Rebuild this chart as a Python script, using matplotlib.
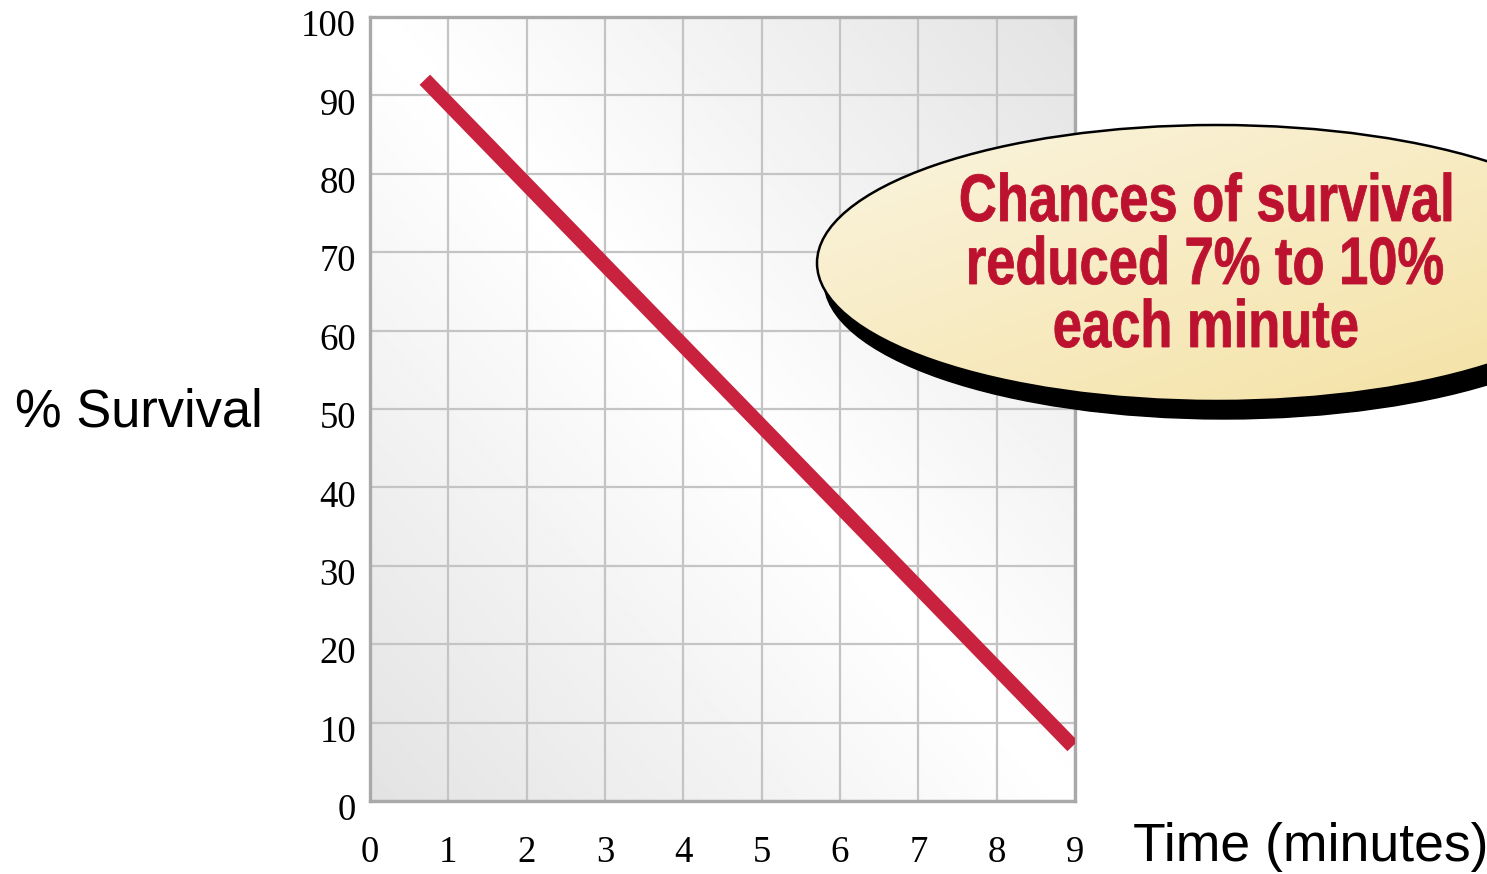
import matplotlib.pyplot as plt
import numpy as np
from matplotlib.patches import Ellipse, PathPatch
from matplotlib.textpath import TextPath
from matplotlib.font_manager import FontProperties
from matplotlib.transforms import Affine2D, ScaledTranslation

# data
time_min = [0.7, 8.97]
survival = [92, 7]
x_ticks = list(range(0, 10))
y_ticks = list(range(0, 101, 10))
note_lines = ["Chances of survival", "reduced 7% to 10%", "each minute"]

W, H = 1487, 874
fig = plt.figure(figsize=(W / 100, H / 100), dpi=100)

ax = fig.add_axes([370 / W, (H - 801) / H, 705 / W, 784 / H])
ax.set_xlim(0, 9)
ax.set_ylim(0, 100)

# soft gray background, light along the falling diagonal
gx, gy = np.meshgrid(np.linspace(0, 1, 300), np.linspace(0, 1, 300))
shade = 1 - 0.11 * np.abs(gx + gy - 1)
ax.imshow(shade, cmap='gray', vmin=0, vmax=1, extent=[0, 9, 0, 100],
          origin='lower', aspect='auto', zorder=0, interpolation='bilinear')

ax.set_xticks(x_ticks)
ax.set_yticks(y_ticks)
ax.grid(True, color='#c4c4c4', linewidth=1.6, zorder=1)
ax.tick_params(length=0, labelsize=26.5)
ax.tick_params(axis='x', pad=25)
ax.tick_params(axis='y', pad=10)
for lab in ax.get_xticklabels() + ax.get_yticklabels():
    lab.set_family(['Liberation Serif', 'DejaVu Serif'])
shift = ScaledTranslation(0, -6 / 100, fig.dpi_scale_trans)
for tk in ax.yaxis.get_major_ticks():
    tk.label1.set_transform(tk.label1.get_transform() + shift)
for sp in ax.spines.values():
    sp.set_color('#a9a9a9')
    sp.set_linewidth(2.4)

ax.plot(time_min, survival, color='#c8223e', linewidth=10.5,
        solid_capstyle='butt', zorder=3)

fig.text(15 / W, 1 - 412 / H, '% Survival', fontsize=37.8,
         family=['Liberation Sans', 'DejaVu Sans'], va='center', ha='left')
fig.text(1133 / W, 1 - 847 / H, 'Time (minutes)', fontsize=38.5,
         family=['Liberation Sans', 'DejaVu Sans'], va='center', ha='left')

# callout bubble on an overlay in pixel coordinates
ov = fig.add_axes([0, 0, 1, 1], zorder=5)
ov.set_xlim(0, W)
ov.set_ylim(H, 0)
ov.axis('off')
ov.patch.set_alpha(0)

cx, cy, ew, eh = 1217, 263, 800, 276
ov.add_patch(Ellipse((cx + 7, cy + 18), ew, eh, facecolor='black',
                     edgecolor='black', zorder=1))
bubble = Ellipse((cx, cy), ew, eh, facecolor='none', edgecolor='black',
                 linewidth=1.8, zorder=3)
ov.add_patch(bubble)
bx, by = np.meshgrid(np.linspace(0, 1, 200), np.linspace(0, 1, 200))
t = (bx + by) / 2
top = np.array([0.985, 0.96, 0.88])
bot = np.array([0.955, 0.88, 0.63])
grad = top[None, None, :] * (1 - t[..., None]) + bot[None, None, :] * t[..., None]
im = ov.imshow(grad, extent=[cx - ew / 2, cx + ew / 2, cy + eh / 2, cy - eh / 2],
               aspect='auto', zorder=2, interpolation='bilinear')
im.set_clip_path(bubble)

# condensed bold text: squeeze the glyph outlines sideways
fp = FontProperties(family='Liberation Sans', weight='bold')
paths = [TextPath((0, 0), s, size=100, prop=fp) for s in note_lines]
sy = 48 / 71.6
w0 = paths[0].get_extents().width
sx = 490 / w0
for i, p in enumerate(paths):
    ext = p.get_extents()
    w = ext.width * sx
    x0 = 1206 - w / 2 - ext.x0 * sx
    base = 221 + 63 * i
    tr = Affine2D().scale(sx, -sy).translate(x0, base) + ov.transData
    ov.add_patch(PathPatch(p, facecolor='#bc1230', edgecolor='#bc1230',
                           linewidth=0.6, transform=tr, zorder=4))

fig.savefig('out.png', dpi=100)
